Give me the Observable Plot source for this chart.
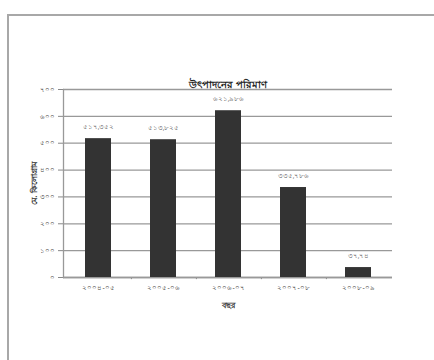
<!DOCTYPE html>
<html><head><meta charset="utf-8">
<script src="https://cdn.jsdelivr.net/npm/d3@7"></script>
<script src="https://cdn.jsdelivr.net/npm/@observablehq/plot@0.6"></script>
<style>
body{margin:0;background:#fff;width:434px;height:360px;overflow:hidden;position:relative;font-family:"Noto Sans",sans-serif}
#frame{position:absolute;left:7px;top:14px;width:440px;height:360px;border-left:2px solid #a8a8a8;border-top:2px solid #a8a8a8;box-sizing:border-box}
#chart{position:absolute;left:0;top:0}
</style></head>
<body><div id="frame"></div><div id="chart"></div>
<script>
const years = ["২০০৪-০৫","২০০৫-০৬","২০০৬-০৭","২০০৭-০৮","২০০৮-০৯"];
const values = [517, 513, 621, 335, 37];
const valueLabels = ["৫১৭,৩৫২","৫১৩,৮২৫","৬২১,৯৮৬","৩৩৫,৭৮৬","৩৭,৭৪"];
const yTicks = [0,100,200,300,400,500,600,700];
const title = "উৎপাদনের পরিমাণ";
const yLabel = "মে. কিলোগ্রাম";
const xLabel = "বছর";

const bn = s => String(s).replace(/[0-9]/g, d => "০১২৩৪৫৬৭৮৯"[d]);
const data = years.map((y,i)=>({year:y, value:values[i], label:valueLabels[i]}));

const chart = Plot.plot({
  width: 434, height: 360,
  marginLeft: 63, marginRight: 42, marginTop: 89, marginBottom: 83,
  style: {fontFamily: "'Noto Sans', sans-serif", fontSize: "7px", color: "#444", background: "transparent"},
  x: {domain: years, paddingInner: 0.6, paddingOuter: 0.3},
  y: {domain: [0,700]},
  marks: [
    Plot.gridY(yTicks, {stroke: "#999", strokeOpacity: 1, strokeWidth: 1.3}),
    Plot.axisY(yTicks, {tickFormat: bn, tickSize: 5, stroke:"#888", fill: "#444", fontSize: 7, tickPadding: 4,
      label: yLabel, labelAnchor: "center", labelArrow: "none", labelOffset: 32}),
    Plot.axisX({tickSize: 0, tickPadding: 8, fill: "#444", fontSize: 7,
      label: xLabel, labelAnchor: "center", labelArrow: "none", labelOffset: 30}),
    Plot.frame({anchor: "left", stroke: "#999", strokeWidth: 1.3}),
    Plot.ruleX(years.slice(0,-1), {dx: 32.9, y1: 0, y2: -8, stroke: "#888"}),
    Plot.ruleY([0], {stroke: "#999", strokeWidth: 1.3}),
    Plot.barY(data, {x: "year", y: "value", fill: "#333"}),
    Plot.text(data, {x: "year", y: "value", text: "label", dy: -12, fill: "#666", fontSize: 6.5}),
    Plot.text([title], {frameAnchor: "top", dy: -9, fontWeight: "bold", fontSize: 10, fill: "#222"})
  ]
});
document.getElementById("chart").appendChild(chart);
chart.querySelectorAll("[aria-label='y-axis label'] text, [aria-label='x-axis label'] text").forEach(t=>{t.setAttribute("font-weight","bold");t.setAttribute("fill","#333");t.setAttribute("font-size","8");});
</script></body></html>
